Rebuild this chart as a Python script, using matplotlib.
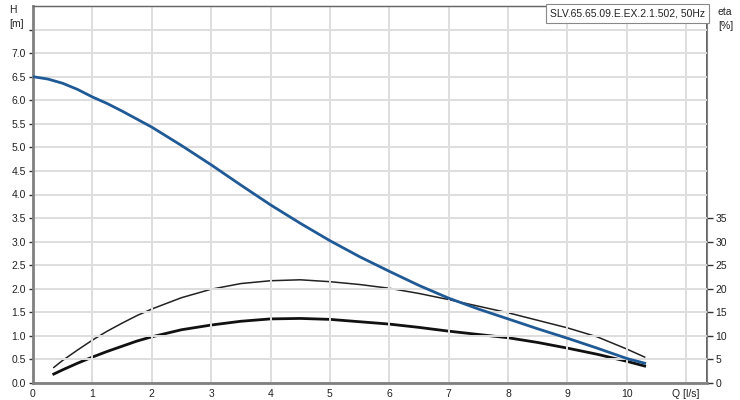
import matplotlib
matplotlib.use("Agg")
import matplotlib.pyplot as plt

plt.rcParams['font.family'] = ['Liberation Sans', 'DejaVu Sans']

# Data
q_h = [0, 0.25, 0.5, 0.75, 1, 1.25, 1.5, 2, 2.5, 3, 3.5, 4, 4.5, 5, 5.5, 6, 6.5, 7, 7.5, 8,
       8.5, 9, 9.5, 10, 10.3]
head = [6.50, 6.45, 6.36, 6.23, 6.07, 5.93, 5.77, 5.43, 5.04, 4.63, 4.20, 3.78, 3.39, 3.02,
        2.68, 2.37, 2.07, 1.80, 1.57, 1.36, 1.15, 0.95, 0.74, 0.52, 0.42]

q_eta = [0.35, 0.5, 0.75, 1, 1.25, 1.5, 1.75, 2, 2.5, 3, 3.5, 4, 4.5, 5, 5.5, 6, 6.5, 7, 7.5,
         8, 8.5, 9, 9.5, 10, 10.3]
eta_pump = [3.3, 4.8, 7.0, 9.1, 11.0, 12.7, 14.3, 15.7, 18.1, 19.9, 21.1, 21.7, 21.9, 21.5,
            20.9, 20.1, 19.0, 17.7, 16.3, 14.9, 13.3, 11.7, 9.8, 7.2, 5.5]
eta_total = [1.9, 2.8, 4.2, 5.5, 6.7, 7.8, 8.9, 9.8, 11.3, 12.3, 13.1, 13.6, 13.7, 13.5, 13.0,
             12.5, 11.8, 11.0, 10.3, 9.6, 8.6, 7.4, 6.1, 4.6, 3.6]

x_ticks = [0, 1, 2, 3, 4, 5, 6, 7, 8, 9, 10, 11]
x_labels = ['0', '1', '2', '3', '4', '5', '6', '7', '8', '9', '10', 'Q [l/s]']
h_ticks = [0, 0.5, 1, 1.5, 2, 2.5, 3, 3.5, 4, 4.5, 5, 5.5, 6, 6.5, 7, 7.5]
h_labels = ['0.0', '0.5', '1.0', '1.5', '2.0', '2.5', '3.0', '3.5', '4.0', '4.5', '5.0',
            '5.5', '6.0', '6.5', '7.0', '']
eta_ticks = [0, 5, 10, 15, 20, 25, 30, 35]
title = 'SLV.65.65.09.E.EX.2.1.502, 50Hz'

fig = plt.figure(figsize=(7.4, 4.0), dpi=100)
ax = fig.add_axes([33/740, 17/400, (707-33)/740, (383-6)/400])
ax2 = ax.twinx()

ax.set_xlim(0, 11.35)
ax.set_ylim(0, 8.0)
ax2.set_ylim(0, 80)

grid_c = '#dedede'
ax.set_xticks(x_ticks)
ax.set_xticklabels(x_labels)
ax.set_yticks(h_ticks)
ax.set_yticklabels(h_labels)
ax.grid(True, color=grid_c, linewidth=1.4)
ax.set_axisbelow(True)

ax2.set_yticks(eta_ticks)
ax2.set_yticklabels([str(t) for t in eta_ticks])

ax2.plot(q_eta, eta_pump, color='#222222', linewidth=1.1)
ax2.plot(q_eta, eta_total, color='#111111', linewidth=2.0)
ax.plot(q_h, head, color='#1f5a96', linewidth=2.0, zorder=5)
ax.set_zorder(ax2.get_zorder() + 1)
ax.patch.set_visible(False)

spine_c = '#808080'
for a in (ax, ax2):
    for s in a.spines.values():
        s.set_color(spine_c)
ax.spines['left'].set_linewidth(2.0)
ax.spines['bottom'].set_linewidth(2.0)
ax.spines['top'].set_linewidth(1.0)
ax2.spines['right'].set_linewidth(1.3)
ax2.spines['right'].set_color('#555555')
ax.spines['top'].set_color('#666666')

ax.tick_params(axis='both', labelsize=7.5, colors='#333333', length=3, width=1, pad=2)
ax.tick_params(axis='x', length=0, pad=4)
ax2.tick_params(axis='y', labelsize=7.5, colors='#333333', length=4, width=1, pad=2)
for lab in ax.get_xticklabels() + ax.get_yticklabels() + ax2.get_yticklabels():
    lab.set_color('#222222')

fig.text(9/740, 1 - 17/400, 'H\n[m]', fontsize=7.5, ha='left', va='center', color='#222222',
         linespacing=1.4)
fig.text(718/740, 1 - 19/400, 'eta\n[%]', fontsize=7.5, ha='left', va='center', color='#222222',
         linespacing=1.4)

ax.text(0.9975, 0.993, title, transform=ax.transAxes, ha='right', va='top', fontsize=7.5,
        color='#222222', zorder=10,
        bbox=dict(boxstyle='square,pad=0.4', facecolor='white', edgecolor='#888888', linewidth=0.8))

fig.savefig('out.png', dpi=100)
